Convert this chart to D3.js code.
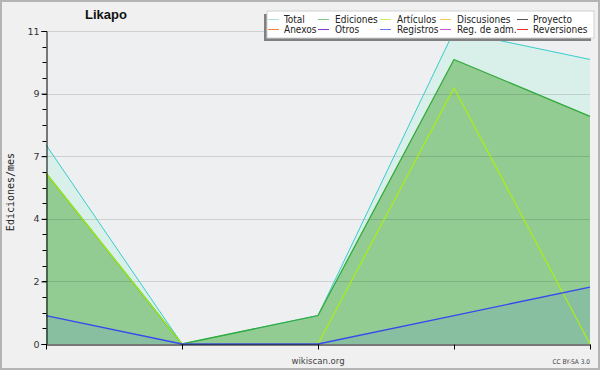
<!DOCTYPE html>
<html><head><meta charset="utf-8">
<script src="https://cdn.jsdelivr.net/npm/d3@7"></script>
<style>html,body{margin:0;padding:0;background:#f0f0f0;}svg{display:block;}</style>
</head><body>
<svg id="c" width="600" height="370"></svg>
<script>
// ---- data ----
const periods = ["p1", "p2", "p3", "p4", "p5"];
const total = [7, 0, 1, 11, 10];
const ediciones = [6, 0, 1, 10, 8];
const articulos = [6, 0, 0, 9, 0];
const registros = [1, 0, 0, 1, 2];
const yTickValues = [0, 2.2, 4.4, 6.6, 8.8, 11];
const legendNames = ["Total", "Ediciones", "Artículos", "Discusiones", "Proyecto",
                     "Anexos", "Otros", "Registros", "Reg. de adm.", "Reversiones"];
const legendColors = ["#a8e2df", "#7ccc7c", "#c8ee66", "#f8c850", "#555555",
                      "#f08040", "#8a3acc", "#6a78f0", "#d050d8", "#ee3030"];
const title = "Likapo";
const yLabel = "Ediciones/mes";

// ---- layout ----
const svg = d3.select("#c");
const L = 46, R = 590, T = 31, B = 344;
const x = d3.scalePoint().domain(periods).range([L, R]);
const y = d3.scaleLinear().domain([0, 11]).range([B, T]);

svg.append("rect").attr("x", 1).attr("y", 1).attr("width", 598).attr("height", 368)
  .attr("fill", "#f0f0f0").attr("stroke", "#b4b4b4").attr("stroke-width", 2);
svg.append("rect").attr("x", L).attr("y", T).attr("width", R - L).attr("height", B - T)
  .attr("fill", "#eeeff1");

function area(vals) {
  return d3.area().x((d, i) => x(periods[i])).y0(y(0)).y1(d => y(d))(vals);
}
function line(vals) {
  return d3.line().x((d, i) => x(periods[i])).y(d => y(d))(vals);
}

// fills
svg.append("path").attr("d", area(total)).attr("fill", "#d8f0e9");
svg.append("path").attr("d", area(ediciones)).attr("fill", "#93cc93");
svg.append("path").attr("d", area(registros)).attr("fill", "#88bfa1");

// grid
svg.append("g").selectAll("line").data(yTickValues.slice(1)).join("line")
  .attr("x1", L).attr("x2", R).attr("y1", d => Math.round(y(d)) + 0.5).attr("y2", d => Math.round(y(d)) + 0.5)
  .attr("stroke", "#000").attr("stroke-opacity", 0.13);

// lines
svg.append("path").attr("d", line(total)).attr("fill", "none").attr("stroke", "#38cccc").attr("stroke-width", 1);
svg.append("path").attr("d", line(ediciones)).attr("fill", "none").attr("stroke", "#33aa3a").attr("stroke-width", 1.3);
svg.append("path").attr("d", line(articulos)).attr("fill", "none").attr("stroke", "#aaee11").attr("stroke-width", 1.2);
svg.append("path").attr("d", line(registros)).attr("fill", "none").attr("stroke", "#3848ee").attr("stroke-width", 1.3);

// axes
const minor = d3.range(0, 11.0001, 0.55);
const yAxis = d3.axisLeft(y).tickValues(yTickValues).tickFormat(d => Math.round(d)).tickSize(5).tickPadding(2);
const gy = svg.append("g").attr("transform", `translate(${L + 0.5},0)`).call(yAxis);
gy.select(".domain").attr("stroke", "#000");
gy.selectAll("text").attr("font-family", "DejaVu Sans").attr("font-size", 9.5).attr("fill", "#333");
gy.append("g").selectAll("line").data(minor).join("line")
  .attr("x1", -4).attr("x2", 0).attr("y1", d => Math.round(y(d)) + 0.5).attr("y2", d => Math.round(y(d)) + 0.5)
  .attr("stroke", "#000");

const xAxis = d3.axisBottom(x).tickFormat("").tickSize(5).tickSizeOuter(0);
const gx = svg.append("g").attr("transform", `translate(0,${B + 0.5})`).call(xAxis);
gx.select(".domain").attr("stroke", "#000");

// texts
svg.append("text").attr("x", 85).attr("y", 19).text(title)
  .attr("font-family", "Liberation Sans, Arial").attr("font-weight", "bold").attr("font-size", 13).attr("fill", "#111");
svg.append("text").attr("transform", "translate(14,192) rotate(-90)").attr("text-anchor", "middle")
  .text(yLabel).attr("font-family", "DejaVu Sans Mono").attr("font-size", 10).attr("fill", "#222");
svg.append("text").attr("x", 318).attr("y", 364).attr("text-anchor", "middle").text("wikiscan.org")
  .attr("font-family", "DejaVu Sans Condensed, DejaVu Sans").attr("font-size", 9.5).attr("fill", "#444");
svg.append("text").attr("x", 590).attr("y", 364).attr("text-anchor", "end").text("CC BY-SA 3.0")
  .attr("font-family", "DejaVu Sans Condensed, DejaVu Sans").attr("font-size", 6.5).attr("fill", "#444");

// legend
const lg = svg.append("g");
lg.append("rect").attr("x", 264).attr("y", 14).attr("width", 327).attr("height", 27).attr("fill", "#808080");
lg.append("rect").attr("x", 267).attr("y", 11).attr("width", 327).attr("height", 27).attr("fill", "#fff")
  .attr("stroke", "#d0d0d0");
const colX = [268, 318, 380, 440, 517];
const textX = [284, 335, 397, 457, 533];
legendNames.forEach((n, i) => {
  const c = i % 5, r = Math.floor(i / 5);
  const yy = 19 + r * 10;
  lg.append("line").attr("x1", colX[c]).attr("x2", colX[c] + 11).attr("y1", yy + 0.5).attr("y2", yy + 0.5)
    .attr("stroke", legendColors[i]).attr("stroke-width", 1);
  lg.append("text").attr("x", textX[c]).attr("y", yy + 4).text(n)
    .attr("font-family", "DejaVu Sans Condensed, DejaVu Sans").attr("font-size", 10).attr("fill", "#222");
});
</script>
</body></html>
